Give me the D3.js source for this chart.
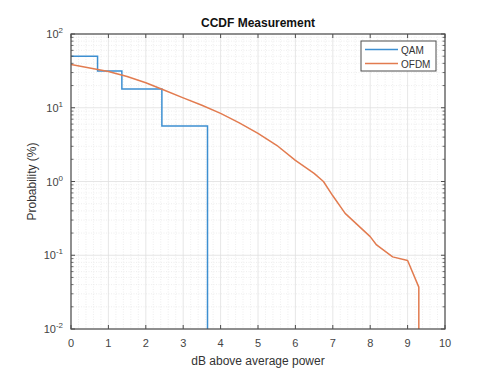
<!DOCTYPE html>
<html><head><meta charset="utf-8">
<script src="https://cdn.jsdelivr.net/npm/d3@7"></script>
<style>
body{margin:0;background:#fff;}
svg{display:block;font-family:"Liberation Sans",Arial,sans-serif;}
</style></head>
<body><svg id="c" width="488" height="377"></svg>
<script>
const qamX = [0, 0.71, 1.36, 2.43, 3.65];
const qamY = [50, 31.5, 17.9, 5.66, 0.01];
const ofdmX = [0, 1, 1.5, 2, 2.5, 3, 3.5, 4, 4.5, 5, 5.5, 6, 6.5, 6.75, 7, 7.33, 8, 8.17, 8.6, 9, 9.3, 9.3];
const ofdmY = [38.5, 31.0, 26.5, 21.8, 17.3, 13.6, 10.8, 8.4, 6.25, 4.5, 3.1, 1.93, 1.29, 1.0, 0.64, 0.37, 0.179, 0.138, 0.095, 0.085, 0.037, 0.01];
const xTicks = [0,1,2,3,4,5,6,7,8,9,10];
const yTickExp = [2,1,0,-1,-2];
const seriesNames = ["QAM","OFDM"];
const title = "CCDF Measurement";
const xLabel = "dB above average power";
const yLabel = "Probability (%)";

const svg = d3.select("#c");
const L=71, R=445, T=34, B=329;
const x = d3.scaleLinear().domain([0,10]).range([L,R]);
const y = d3.scaleLog().domain([0.01,100]).range([B,T]);
const colors = ["#3d8fd1","#e27b4f"];
const axisCol = "#4d4d4d";

const g = svg.append("g");
// minor grid
const minorX = d3.range(0, 10.001, 0.2).filter(v => Math.abs(v - Math.round(v)) > 1e-6);
g.selectAll(".mx").data(minorX).enter().append("line")
  .attr("x1",d=>x(d)).attr("x2",d=>x(d)).attr("y1",T).attr("y2",B)
  .attr("stroke","#e3e3e3").attr("stroke-width",0.6).attr("stroke-dasharray","1,1.5");
const minorY = [];
for (let e=-2;e<2;e++) for (let k=2;k<10;k++) minorY.push(k*Math.pow(10,e));
g.selectAll(".my").data(minorY).enter().append("line")
  .attr("x1",L).attr("x2",R).attr("y1",d=>y(d)).attr("y2",d=>y(d))
  .attr("stroke","#e3e3e3").attr("stroke-width",0.6).attr("stroke-dasharray","1,1.5");
// major grid
g.selectAll(".gx").data(xTicks).enter().append("line")
  .attr("x1",d=>x(d)).attr("x2",d=>x(d)).attr("y1",T).attr("y2",B)
  .attr("stroke","#e0e0e0").attr("stroke-width",0.8);
g.selectAll(".gy").data(yTickExp).enter().append("line")
  .attr("x1",L).attr("x2",R).attr("y1",d=>y(Math.pow(10,d))).attr("y2",d=>y(Math.pow(10,d)))
  .attr("stroke","#e0e0e0").attr("stroke-width",0.8);

// data lines
svg.append("clipPath").attr("id","clp").append("rect")
  .attr("x",L).attr("y",T).attr("width",R-L).attr("height",B-T);
const lineQ = d3.line().x(d=>x(d[0])).y(d=>y(d[1])).curve(d3.curveStepAfter);
const lineO = d3.line().x(d=>x(d[0])).y(d=>y(d[1]));
svg.append("path").attr("clip-path","url(#clp)")
  .attr("d", lineQ(qamX.map((v,i)=>[v,qamY[i]])))
  .attr("fill","none").attr("stroke",colors[0]).attr("stroke-width",1.5);
svg.append("path").attr("clip-path","url(#clp)")
  .attr("d", lineO(ofdmX.map((v,i)=>[v,ofdmY[i]])))
  .attr("fill","none").attr("stroke",colors[1]).attr("stroke-width",1.5)
  .attr("stroke-linejoin","round");

// axes box
svg.append("rect").attr("x",L).attr("y",T).attr("width",R-L).attr("height",B-T)
  .attr("fill","none").attr("stroke",axisCol).attr("stroke-width",1.2);
// ticks
const tk = svg.append("g").attr("stroke",axisCol).attr("stroke-width",1);
xTicks.forEach(v=>{
  tk.append("line").attr("x1",x(v)).attr("x2",x(v)).attr("y1",B).attr("y2",B-4);
  tk.append("line").attr("x1",x(v)).attr("x2",x(v)).attr("y1",T).attr("y2",T+4);
});
yTickExp.forEach(e=>{
  const yy=y(Math.pow(10,e));
  tk.append("line").attr("x1",L).attr("x2",L+4).attr("y1",yy).attr("y2",yy);
  tk.append("line").attr("x1",R).attr("x2",R-4).attr("y1",yy).attr("y2",yy);
});
minorY.forEach(v=>{
  const yy=y(v);
  tk.append("line").attr("x1",L).attr("x2",L+2.5).attr("y1",yy).attr("y2",yy).attr("stroke-width",0.8);
  tk.append("line").attr("x1",R).attr("x2",R-2.5).attr("y1",yy).attr("y2",yy).attr("stroke-width",0.8);
});

// tick labels
svg.selectAll(".xl").data(xTicks).enter().append("text")
  .attr("x",d=>x(d)).attr("y",347).attr("text-anchor","middle")
  .attr("font-size",11).attr("fill","#444").text(d=>d);
yTickExp.forEach(e=>{
  const t = svg.append("text").attr("x",63).attr("y",y(Math.pow(10,e))+4)
    .attr("text-anchor","end").attr("font-size",11).attr("fill","#444");
  t.append("tspan").text("10");
  t.append("tspan").attr("font-size",8).attr("dy",-5).text(e);
});

// labels
svg.append("text").attr("x",(L+R)/2).attr("y",27).attr("text-anchor","middle")
  .attr("font-size",12).attr("font-weight","bold").attr("fill","#111").text(title);
svg.append("text").attr("x",(L+R)/2).attr("y",365).attr("text-anchor","middle")
  .attr("font-size",12).attr("fill","#333").text(xLabel);
svg.append("text").attr("transform",`translate(36,${(T+B)/2}) rotate(-90)`)
  .attr("text-anchor","middle").attr("font-size",12).attr("fill","#333").text(yLabel);

// legend
const lg = svg.append("g");
lg.append("rect").attr("x",361).attr("y",41).attr("width",75).attr("height",30)
  .attr("fill","#fff").attr("stroke",axisCol).attr("stroke-width",1);
seriesNames.forEach((n,i)=>{
  const yy = 49.5 + i*14;
  lg.append("line").attr("x1",365).attr("x2",398).attr("y1",yy).attr("y2",yy)
    .attr("stroke",colors[i]).attr("stroke-width",1.5);
  lg.append("text").attr("x",401).attr("y",yy+4).attr("font-size",10).attr("fill","#333").text(n);
});
</script></body></html>
